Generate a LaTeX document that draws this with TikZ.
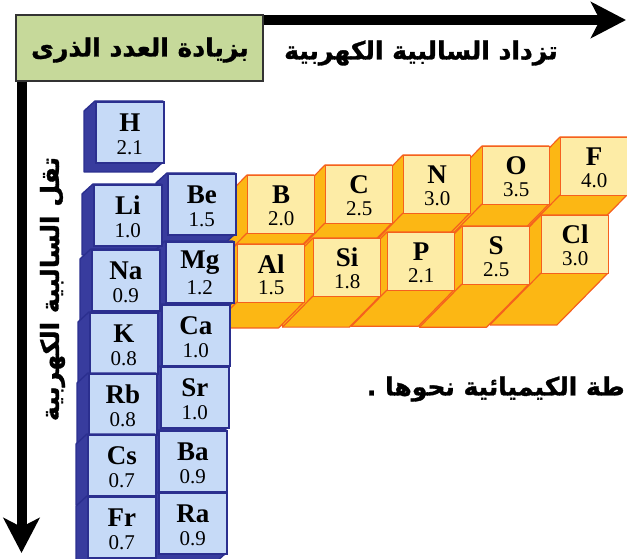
\documentclass[tikz,border=0pt]{standalone}
\usepackage{fontspec}
\setmainfont{Liberation Serif}
\newfontfamily\arabicfont[Script=Arabic, BoldFeatures={FakeBold=1.2}]{DejaVu Sans}
\TeXXeTstate=1
\usetikzlibrary{arrows.meta, calc}

\definecolor{headgreen}{HTML}{C6D99A}
\definecolor{sfront}{HTML}{C6DAF7}
\definecolor{snavy}{HTML}{2B2F8F}
\definecolor{sdark}{HTML}{383C9E}
\definecolor{pfront}{HTML}{FDECA6}
\definecolor{porange}{HTML}{FCB714}
\definecolor{pred}{HTML}{F5601E}

\begin{document}
\begin{tikzpicture}[
    x=1pt, y=-1pt,
    axis/.style={line width=10pt, -{Stealth[length=35pt, width=36pt, inset=9pt]}},
    header/.style={draw=black!80, line width=1.2pt, fill=headgreen, minimum width=247pt, minimum height=66pt, inner sep=0pt},
    trend/.style={font=\arabicfont\bfseries\fontsize{25}{29}\selectfont, inner sep=0pt},
    sside/.style={fill=sdark, draw=snavy, line width=1.4pt, line join=round},
    sbox/.style={draw=snavy, line width=1.6pt, fill=sfront, minimum width=68pt, minimum height=61pt, inner sep=0pt},
    pside/.style={fill=porange, draw=pred, line width=1.2pt, line join=round},
    pbox/.style={draw=pred, line width=1.3pt, fill=pfront, minimum width=67pt, minimum height=58pt, inner sep=0pt},
    sym/.style={font=\bfseries\fontsize{27}{30}\selectfont, inner sep=0pt},
    en/.style={font=\fontsize{21}{24}\selectfont, inner sep=0pt}
]
    \useasboundingbox (0,0) rectangle (627,559);
    \clip (0,0) rectangle (627,559);

    % Axes
    \coordinate (corner) at (21.5,20);
    \coordinate (xtip) at (626,20);
    \coordinate (ytip) at (21.5,553);
    \draw[axis] (corner) -- (xtip);
    \draw[axis] (corner) -- (ytip);

    % Header and trend labels
    \node[header] (atomic) at (139.5,48) {};
    \node[trend] (atomictext) at (140,50) {\beginR بزيادة العدد الذرى\endR};
    \node[trend] (across) at (421,53) {\beginR تزداد السالبية الكهربية\endR};
    \node[trend, rotate=90] (down) at (52.5,289) {\beginR تقل السالبية الكهربية\endR};
    \node[trend, anchor=east] (sentence) at (625,389) {\beginR طة الكيميائية نحوها .\endR};

    % p-block bars, back row first
    \foreach \n/\x/\y/\val in {F/560/137/4.0, O/482/146/3.5, N/403/155/3.0, C/325/165/2.5, B/247/175/2.0,
                               Cl/541/215/3.0, S/462/226/2.5, P/387/232/2.1, Si/313/238/1.8, Al/237/244/1.5} {
        \pgfmathsetmacro{\dx}{-17*\val}
        \pgfmathsetmacro{\dy}{17.3*\val}
        \filldraw[pside] (\x,\y) -- (\x+67,\y) -- (\x+67,\y+58) -- (\x+67+\dx,\y+58+\dy)
            -- (\x+\dx,\y+58+\dy) -- (\x+\dx,\y+\dy) -- cycle;
        \draw[pside] (\x,\y+58) -- (\x+\dx,\y+58+\dy);
        \node[pbox, anchor=north west] (\n) at (\x,\y) {};
        \node[sym] at ($(\n.center)+(0,-10)$) {\n};
        \node[en] at ($(\n.center)+(0,14)$) {\val};
    }

    % s-block boxes, back column first
    \foreach \n/\x/\y/\val in {Be/167/173/1.5, Mg/165/241/1.2, Ca/161/304/1.0, Sr/160/366/1.0, Ba/158/430/0.9, Ra/158/492/0.9,
                               H/95/101/2.1, Li/93/184/1.0, Na/91/249/0.9, K/89/312/0.8, Rb/88/373/0.8, Cs/87/434/0.7, Fr/87/496/0.7} {
        \filldraw[sside] (\x,\y) -- (\x+68,\y) -- (\x+68,\y+61) -- (\x+57,\y+71)
            -- (\x-11,\y+71) -- (\x-11,\y+10) -- cycle;
        \node[sbox, anchor=north west] (\n) at (\x,\y) {};
        \ifx\n H
            \node[sym, font=\fontsize{31}{34}\selectfont] at ($(\n.center)+(0,-8)$) {\n};
            \node[en, font=\fontsize{18}{21}\selectfont] at ($(\n.center)+(0,20)$) {\val};
        \else
            \node[sym] at ($(\n.center)+(0,-10)$) {\n};
            \node[en] at ($(\n.center)+(0,15)$) {\val};
        \fi
    }
\end{tikzpicture}
\end{document}
